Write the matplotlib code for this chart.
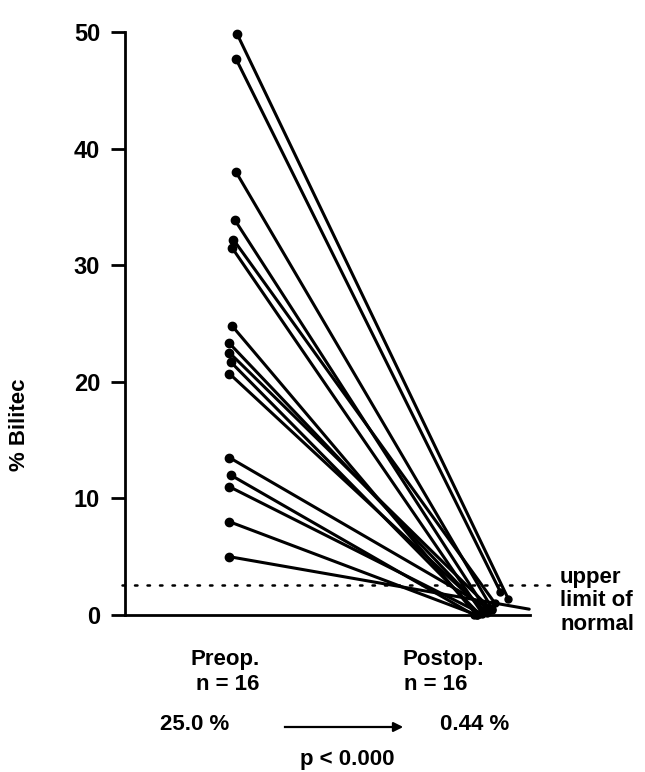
import numpy as np
import matplotlib.pyplot as plt

# preop / postop Bilitec values (%) for the 16 patients
preop = [49.8, 47.7, 38.0, 33.9, 32.2, 31.5, 24.8, 23.3, 22.5, 21.7,
         20.7, 13.5, 12.0, 11.0, 8.0, 5.0]
postop = [1.4, 2.0, 0.5, 0.3, 1.0, 0.2, 0.0, 0.3, 0.6, 0.1,
          0.2, 0.4, 0.0, 0.1, 0.0, 0.5]
# small horizontal scatter of the dots
preop_x = [1.02, 1.015, 1.015, 1.01, 1.005, 1.0, 1.0, 0.99, 0.99, 0.995,
           0.99, 0.99, 0.995, 0.99, 0.99, 0.99]
postop_x = [2.05, 2.02, 1.99, 1.97, 2.0, 1.95, 1.93, 1.96, 1.98, 1.94,
            1.97, 1.99, 1.92, 1.95, 1.93, 2.13]
upper_normal = 2.6

plt.rcParams['font.family'] = ['Liberation Sans', 'DejaVu Sans']
fig = plt.figure(figsize=(6.45, 7.72), dpi=100)
ax = fig.add_axes([125/645, 157/772, 405/645, 583/772])

for x0, y0, x1, y1 in zip(preop_x, preop, postop_x, postop):
    ax.plot([x0, x1], [y0, y1], color='black', lw=2.2, solid_capstyle='round',
            clip_on=False)
    ax.plot([x0], [y0], 'o', color='black', ms=6, clip_on=False)
    if x1 < 2.1:
        ax.plot([x1], [y1], 'o', color='black', ms=5, clip_on=False)

ax.plot([0.58, 2.228], [upper_normal, upper_normal], color='black', lw=1.8,
        linestyle=(0, (1, 4)), dash_capstyle='round', clip_on=False)

ax.set_xlim(0.593, 2.133)
ax.set_ylim(0, 50)
ax.spines['top'].set_visible(False)
ax.spines['right'].set_visible(False)
ax.spines['left'].set_linewidth(2)
ax.spines['bottom'].set_linewidth(2)
ax.set_xticks([])
ax.set_yticks([0, 10, 20, 30, 40, 50])
ax.tick_params(axis='y', length=10, width=2, labelsize=17, pad=8)
for t in ax.get_yticklabels():
    t.set_fontweight('bold')

def ftext(px, py, s, **kw):
    fig.text(px/645, 1 - py/772, s, fontsize=16, fontweight='bold',
             va='center', **kw)

ftext(20, 425, '% Bilitec', rotation=90, ha='center')
ftext(560, 577, 'upper')
ftext(560, 601, 'limit of')
ftext(560, 625, 'normal')
ftext(190, 660, 'Preop.')
ftext(196, 685, 'n = 16')
ftext(402, 660, 'Postop.')
ftext(404, 685, 'n = 16')
ftext(160, 724, '25.0 %')
ftext(440, 724, '0.44 %')
ftext(300, 760, 'p < 0.000')
fig.add_artist(plt.Line2D([285/645, 398/645], [1 - 727/772, 1 - 727/772],
                          color='black', lw=1.6))
ax.annotate('', xy=(406/645, 1 - 727/772), xytext=(390/645, 1 - 727/772),
            xycoords='figure fraction',
            arrowprops=dict(arrowstyle='-|>', color='black', lw=1.6,
                            mutation_scale=14))

fig.savefig('out.png', dpi=100)
